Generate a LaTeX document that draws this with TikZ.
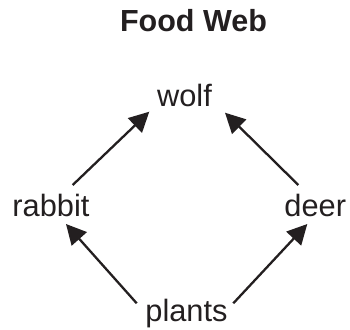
\documentclass[tikz,border=0pt]{standalone}
\usepackage{fontspec}
\setmainfont{Liberation Sans}
\usetikzlibrary{arrows.meta}
\definecolor{ink}{HTML}{231F20}
\begin{document}
\begin{tikzpicture}[x=1pt,y=-1pt,
  lbl/.style={inner sep=0pt,anchor=base,font=\fontsize{30.8}{33}\selectfont,text=ink},
  ttl/.style={inner sep=0pt,anchor=base,font=\fontsize{30.5}{33}\selectfont\bfseries,text=ink},
  arr/.style={line width=2.3pt,draw=ink,-{Triangle[length=20pt,width=20pt]}}]
\useasboundingbox (0,0) rectangle (350,329);
\node[ttl] (title) at (193.5,32) {Food Web};
\node[lbl] (wolf) at (184.5,106) {wolf};
\node[lbl] (rabbit) at (51,216) {rabbit};
\node[lbl] (deer) at (315.3,216.7) {deer};
\node[lbl] (plants) at (186.5,321) {plants};
\draw[arr] ([shift={(21.7,-31)}]rabbit.base) -- ([shift={(-35.2,5.7)}]wolf.base);
\draw[arr] ([shift={(-17,-31.7)}]deer.base) -- ([shift={(40.5,6.7)}]wolf.base);
\draw[arr] ([shift={(-49.8,-17.7)}]plants.base) -- ([shift={(15,8)}]rabbit.base);
\draw[arr] ([shift={(46.8,-17.7)}]plants.base) -- ([shift={(-8,7.3)}]deer.base);
\end{tikzpicture}
\end{document}
